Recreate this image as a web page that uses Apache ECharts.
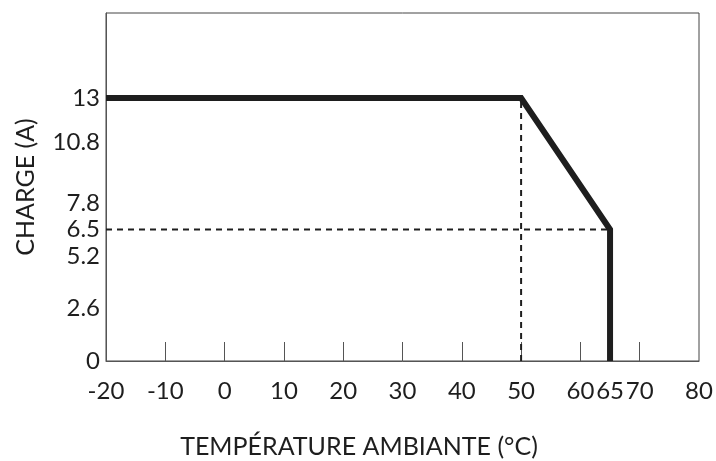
<!DOCTYPE html>
<html>
<head>
<meta charset="utf-8">
<script src="https://cdn.jsdelivr.net/npm/echarts@6/dist/echarts.min.js"></script>
<style>
  html, body { margin: 0; padding: 0; background: #fff; }
  #chart { width: 716px; height: 461px; }
</style>
</head>
<body>
<div id="chart"></div>
<script>
// derating curve
const tempC = [-20, 50, 65, 65];
const chargeA = [13, 13, 6.5, 0];
// dashed guide lines
const guideVX = [50, 50];
const guideVY = [0, 13];
const guideHX = [-20, 65];
const guideHY = [6.5, 6.5];
// axis labels
const xLabels = [-20, -10, 0, 10, 20, 30, 40, 50, 60, 65, 70, 80];
const xTicks = [-10, 0, 10, 20, 30, 40, 50, 60, 70];
const yLabels = [0, 2.6, 5.2, 6.5, 7.8, 10.8, 13];

const pairs = (xs, ys) => xs.map((x, i) => [x, ys[i]]);
const font = "Lato, 'Open Sans', sans-serif";
const ink = "#1e1e1e";

const chart = echarts.init(document.getElementById("chart"));
chart.setOption({
  animation: false,
  backgroundColor: "#fff",
  title: {
    text: "TEMPÉRATURE AMBIANTE (°C)",
    left: 354,
    top: 429,
    textAlign: "center",
    textStyle: { fontFamily: font, fontSize: 25, fontWeight: "normal", color: ink }
  },
  grid: {
    left: 106, right: 17, top: 13, bottom: 100,
    show: true, borderColor: "#444", borderWidth: 1
  },
  xAxis: {
    type: "value",
    min: -20, max: 80,
    splitLine: { show: false },
    axisLine: { onZero: false, lineStyle: { color: "#555", width: 1 } },
    axisTick: { inside: true, length: 19, customValues: xTicks, lineStyle: { color: "#555" } },
    axisLabel: {
      customValues: xLabels,
      margin: 18,
      fontFamily: font, fontSize: 24, color: ink
    }
  },
  yAxis: {
    type: "value",
    min: 0, max: 17.2,
    name: "CHARGE (A)",
    nameLocation: "middle",
    nameGap: 68,
    nameTextStyle: { fontFamily: font, fontSize: 25, color: ink },
    splitLine: { show: false },
    axisLine: { show: true, onZero: false, lineStyle: { color: "#555", width: 1 } },
    axisTick: { show: false },
    axisLabel: {
      customValues: yLabels,
      margin: 6,
      fontFamily: font, fontSize: 24, color: ink
    }
  },
  series: [
    {
      type: "line",
      data: pairs(guideVX, guideVY),
      symbol: "none",
      lineStyle: { color: ink, width: 2, type: [6, 5] }
    },
    {
      type: "line",
      data: pairs(guideHX, guideHY),
      symbol: "none",
      lineStyle: { color: ink, width: 2, type: [6, 5] }
    },
    {
      type: "line",
      data: pairs(tempC, chargeA),
      symbol: "none",
      lineStyle: { color: ink, width: 6, join: "miter", cap: "butt" }
    }
  ]
});
</script>
</body>
</html>
